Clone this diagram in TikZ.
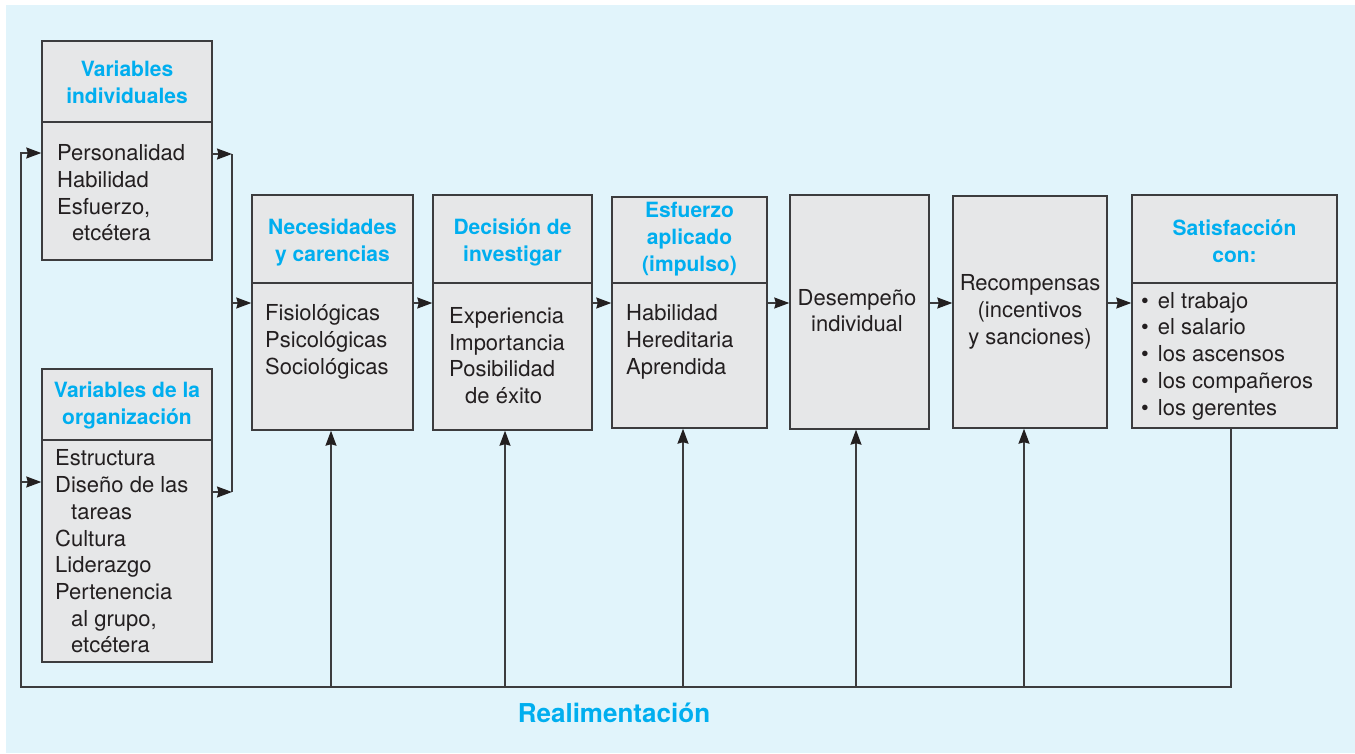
\documentclass[tikz,border=0pt]{standalone}
\usepackage{fontspec}
\setmainfont{TeX Gyre Heros}
\usepackage{xcolor}
\usepackage{tikz}
\usetikzlibrary{arrows.meta,calc,positioning}
\definecolor{bgblue}{HTML}{E1F4FB}
\definecolor{boxgray}{HTML}{E6E7E8}
\definecolor{linegray}{HTML}{3C3C3E}
\definecolor{titlecyan}{HTML}{00AEEF}
\definecolor{textdark}{HTML}{231F20}
\tikzset{
  boxnode/.style={draw=linegray,fill=boxgray,line width=1.4pt,inner sep=0pt},
  divider/.style={linegray,line width=1.4pt},
  titletext/.style={align=center,inner sep=0pt,text=titlecyan,font=\fontsize{21}{27}\selectfont\bfseries},
  bodytext/.style={align=left,inner sep=0pt,text=textdark,font=\fontsize{22}{26.7}\selectfont},
  feedline/.style={linegray,line width=1.4pt},
  flowarrow/.style={-{Stealth[length=15pt,width=11pt,inset=1.5pt,color=textdark]},linegray,line width=1.4pt}
}
\newcommand{\sbul}{\textbullet\hspace{9pt}}
\begin{document}
\begin{tikzpicture}[x=1pt,y=-1pt]
\fill[white] (0,0) rectangle (1355,753);
\fill[bgblue] (6,5) rectangle (1355,753);
% boxes
\node[boxnode,minimum width=170pt,minimum height=219pt] (vi) at (127,150.5) {};
\node[boxnode,minimum width=170pt,minimum height=293pt] (vo) at (127,515.5) {};
\node[boxnode,minimum width=161pt,minimum height=235pt] (nec) at (332.5,312.5) {};
\node[boxnode,minimum width=159pt,minimum height=235pt] (dec) at (512.5,312.5) {};
\node[boxnode,minimum width=155pt,minimum height=231pt] (esf) at (689.5,312.5) {};
\node[boxnode,minimum width=139pt,minimum height=234pt] (des) at (859.5,312) {};
\node[boxnode,minimum width=154pt,minimum height=232pt] (rec) at (1030,312) {};
\node[boxnode,minimum width=205pt,minimum height=233pt] (sat) at (1234.5,311.5) {};
\draw[divider] (vi.west |- 0,122) -- (vi.east |- 0,122);
\draw[divider] (vo.west |- 0,440) -- (vo.east |- 0,440);
\foreach \b in {nec,dec,esf,sat}{\draw[divider] (\b.west |- 0,283) -- (\b.east |- 0,283);}
% titles
\node[titletext] (vititle) at (127,82.5) {Variables\\individuales};
\node[titletext] (votitle) at (127,405) {Variables de la\\organización};
\node[titletext] (nectitle) at (332.5,242) {Necesidades\\y carencias};
\node[titletext] (dectitle) at (512.5,242) {Decisión de\\investigar};
\node[titletext] (esftitle) at (689.5,239) {Esfuerzo\\aplicado\\(impulso)};
\node[titletext] (sattitle) at (1234.5,241.5) {Satisfacción\\con:};
% texts
\node[bodytext,anchor=west] (vibody) at (57,193) {Personalidad\\Habilidad\\Esfuerzo,\\\hspace*{15pt}etcétera};
\node[bodytext,anchor=west] (vobody) at (55,551.5) {Estructura\\Diseño de las\\\hspace*{16pt}tareas\\Cultura\\Liderazgo\\Pertenencia\\\hspace*{16pt}al grupo,\\\hspace*{16pt}etcétera};
\node[bodytext,anchor=west] (necbody) at (265,342) {Fisiológicas\\Psicológicas\\Sociológicas};
\node[bodytext,anchor=west] (decbody) at (449,355.5) {Experiencia\\Importancia\\Posibilidad\\\hspace*{16pt}de éxito};
\node[bodytext,anchor=west] (esfbody) at (626,342) {Habilidad\\Hereditaria\\Aprendida};
\node[bodytext,align=center] (desbody) at (857,310.5) {Desempeño\\individual};
\node[bodytext,align=center] (recbody) at (1030,312) {Recompensas\\(incentivos\\y sanciones)};
\node[bodytext,anchor=west] (satbody) at (1141,356) {\sbul el trabajo\\\sbul el salario\\\sbul los ascensos\\\sbul los compañeros\\\sbul los gerentes};
\node[text=titlecyan,font=\fontsize{26}{30}\selectfont\bfseries,inner sep=0pt] (fbtext) at (614,713) {Realimentación};
% inputs
\coordinate (jvi) at (232,154);
\coordinate (jvo) at (232,492);
\coordinate (jnec) at (232,303);
\draw[feedline] (jvi) -- (jvo);
\draw[flowarrow] (vi.east |- jvi) -- (jvi);
\draw[flowarrow] (vo.east |- jvo) -- (jvo);
\draw[flowarrow] (jnec) -- (nec.west |- jnec);
% flow
\draw[flowarrow] (nec.east |- jnec) -- (dec.west |- jnec);
\draw[flowarrow] (dec.east |- jnec) -- (esf.west |- jnec);
\draw[flowarrow] (esf.east |- jnec) -- (des.west |- jnec);
\draw[flowarrow] (des.east |- jnec) -- (rec.west |- jnec);
\draw[flowarrow] (rec.east |- jnec) -- (sat.west |- jnec);
% feedback
\coordinate (fbr) at (1231,687);
\coordinate (fbl) at (21,687);
\coordinate (fbt) at (21,153);
\coordinate (fbm) at (21,482);
\draw[flowarrow] (fbr |- sat.south) -- (fbr) -- (fbl) -- (fbt) -- (vi.west |- fbt);
\draw[flowarrow] (fbm) -- (vo.west |- fbm);
\foreach \n/\x in {nec/331,dec/505,esf/683,des/856,rec/1024}{\draw[flowarrow] (\x,687) -- (\x,0 |- \n.south);}
\end{tikzpicture}
\end{document}
